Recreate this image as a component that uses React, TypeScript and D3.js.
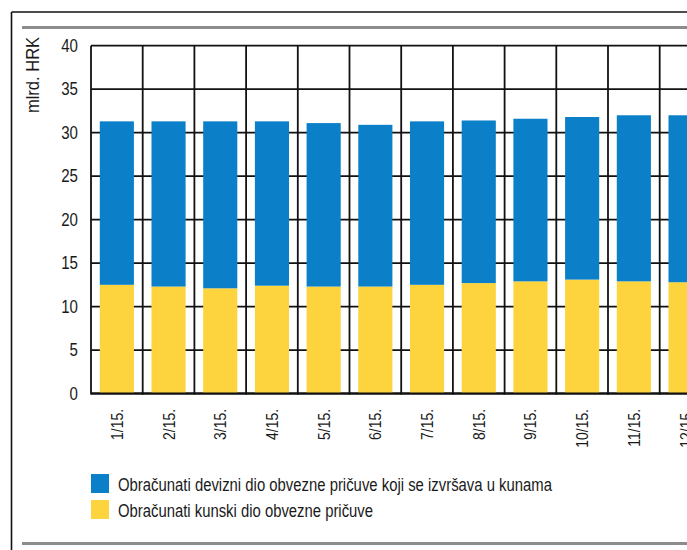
import React from "react";
import * as d3 from "d3";

const categories = ["1/15.", "2/15.", "3/15.", "4/15.", "5/15.", "6/15.", "7/15.", "8/15.", "9/15.", "10/15.", "11/15.", "12/15."];
const kunskiDio = [12.5, 12.3, 12.1, 12.4, 12.3, 12.3, 12.5, 12.7, 12.9, 13.1, 12.9, 12.8];
const devizniDio = [18.8, 19.0, 19.2, 18.9, 18.8, 18.6, 18.8, 18.7, 18.7, 18.7, 19.1, 19.2];
const yTicks = [0, 5, 10, 15, 20, 25, 30, 35, 40];
const legendLabels = [
  "Obračunati devizni dio obvezne pričuve koji se izvršava u kunama",
  "Obračunati kunski dio obvezne pričuve",
];
const legendWidths = [434, 255];
const yTitle = "mlrd. HRK";

const BLUE = "#0b80c9";
const YELLOW = "#fdd33e";
const FONT = "'Liberation Sans', Arial, sans-serif";
const NARROW = 0.82;

export default function App() {
  const W = 687;
  const H = 550;
  const left = 91;
  const step = 51.7;
  const x = d3.scaleBand<string>().domain(categories).range([left, left + step * categories.length]).padding(0);
  const y = d3.scaleLinear().domain([0, 40]).range([393.5, 45.7]);
  const barW = x.bandwidth() * 0.66;

  const stacked = categories.map((c, i) => ({ c, k: kunskiDio[i], d: devizniDio[i] }));

  return (
    <svg width={W} height={H} style={{ position: "absolute", left: 0, top: 0, background: "#fff" }} fontFamily={FONT}>
      <rect x={0} y={0} width={W} height={H} fill="#fff" />
      {/* frame */}
      <line x1={11.5} x2={W} y1={12} y2={12} stroke="#111" strokeWidth={1.6} />
      <line x1={11.5} x2={11.5} y1={12} y2={H} stroke="#111" strokeWidth={1.6} />
      <line x1={22} x2={W} y1={27.5} y2={27.5} stroke="#8c8c8c" strokeWidth={3} />
      <line x1={22} x2={W} y1={543.5} y2={543.5} stroke="#8c8c8c" strokeWidth={3} />

      {/* horizontal grid */}
      {yTicks.map((t) => (
        <line key={"h" + t} x1={left} x2={x.range()[1]} y1={y(t)} y2={y(t)} stroke="#111" strokeWidth={1.8} />
      ))}
      {/* vertical grid */}
      {categories.map((c) => (
        <line key={"v" + c} x1={x(c)!} x2={x(c)!} y1={y(40)} y2={y(0) + 1} stroke="#111" strokeWidth={1.8} />
      ))}

      {/* bars */}
      {stacked.map((s) => {
        const cx = x(s.c)! + x.bandwidth() / 2;
        return (
          <g key={"b" + s.c}>
            <rect x={cx - barW / 2} y={y(s.k)} width={barW} height={y(0) - y(s.k)} fill={YELLOW} />
            <rect x={cx - barW / 2} y={y(s.k + s.d)} width={barW} height={y(s.k) - y(s.k + s.d)} fill={BLUE} />
          </g>
        );
      })}
      {/* zero line on top */}
      <line x1={left} x2={x.range()[1]} y1={y(0)} y2={y(0)} stroke="#111" strokeWidth={2} />

      {/* y tick labels */}
      {yTicks.map((t) => (
        <text
          key={"yt" + t}
          transform={`translate(78,${y(t)}) scale(${NARROW * 1.05},1)`}
          dy="0.36em"
          textAnchor="end"
          fontSize={17.5}
          fill="#1a1a1a"
        >
          {t}
        </text>
      ))}
      {/* y title */}
      <text
        transform={`translate(39,75) rotate(-90) scale(${NARROW * 1.12},1)`}
        textAnchor="middle"
        fontSize={18}
        fill="#1a1a1a"
      >
        {yTitle}
      </text>

      {/* x labels */}
      {categories.map((c) => (
        <text
          key={"xl" + c}
          transform={`translate(${x(c)! + x.bandwidth() / 2},409) rotate(-90) scale(${NARROW},1)`}
          textAnchor="end"
          dy="0.35em"
          fontSize={17}
          fill="#1a1a1a"
        >
          {c}
        </text>
      ))}

      {/* legend */}
      {legendLabels.map((l, i) => (
        <g key={"lg" + i} transform={`translate(91,${474 + i * 26})`}>
          <rect x={0} y={0} width={18} height={19} fill={i === 0 ? BLUE : YELLOW} />
          <text
            x={27}
            y={17}
            fontSize={17.5}
            fill="#1a1a1a"
            textLength={legendWidths[i]}
            lengthAdjust="spacingAndGlyphs"
          >
            {l}
          </text>
        </g>
      ))}
    </svg>
  );
}
